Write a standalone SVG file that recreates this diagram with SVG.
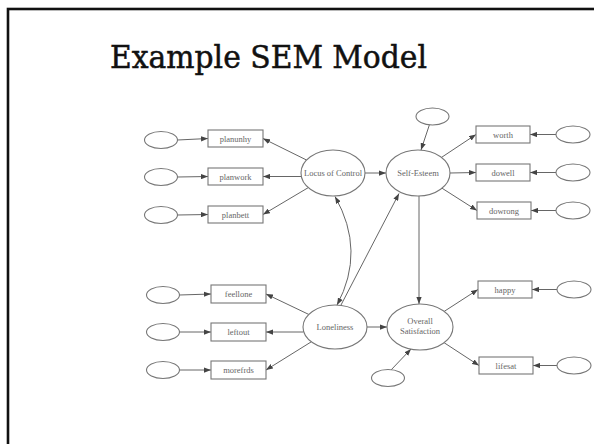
<svg xmlns="http://www.w3.org/2000/svg" width="594" height="444" viewBox="0 0 594 444">
<defs>
<marker id="ah" viewBox="0 0 8 6" markerWidth="7" markerHeight="5.5" refX="8" refY="3" orient="auto-start-reverse" markerUnits="userSpaceOnUse">
<path d="M0,0 L8,3 L0,6 z" fill="#444"/>
</marker>
<style>
.e{fill:#fff;stroke:#777;stroke-width:1.1}
.r{fill:#fff;stroke:#777;stroke-width:1.1}
.t{font-family:"Liberation Serif","Times New Roman",serif;font-size:8.5px;fill:#666;text-anchor:middle}
.c{fill:none;stroke:#666;stroke-width:1}
.c line,.c path{marker-end:url(#ah)}
.title{font-family:"DejaVu Serif",serif;font-size:31px;fill:#111;stroke:#111;stroke-width:0.5;text-anchor:middle}
</style>
</defs>
<rect x="0" y="0" width="594" height="444" fill="#fff"/>
<rect x="8" y="9" width="600" height="450" fill="none" stroke="#111" stroke-width="2.6"/>
<text class="title" x="268.5" y="68" textLength="317" lengthAdjust="spacingAndGlyphs">Example SEM Model</text>

<g class="c" id="connectors">
<line x1="177.5" y1="140" x2="208" y2="138.5"/>
<line x1="177.5" y1="177" x2="208" y2="176.5"/>
<line x1="177.5" y1="215" x2="208" y2="214.5"/>
<line x1="179.5" y1="295" x2="211" y2="294"/>
<line x1="179.5" y1="332" x2="211" y2="332"/>
<line x1="179.5" y1="370" x2="211" y2="370"/>
<line x1="556" y1="134.5" x2="530" y2="134.5"/>
<line x1="556" y1="172.5" x2="530" y2="172.5"/>
<line x1="556" y1="210.5" x2="531" y2="210.5"/>
<line x1="557" y1="289.5" x2="532" y2="289.5"/>
<line x1="557" y1="365.5" x2="533" y2="365.5"/>
<line x1="306.5" y1="160" x2="263" y2="138.5"/>
<line x1="301" y1="176.5" x2="263" y2="176.5"/>
<line x1="308.3" y1="187.6" x2="263" y2="214.5"/>
<line x1="308.7" y1="314.4" x2="266" y2="294"/>
<line x1="303" y1="332" x2="266" y2="332"/>
<line x1="311.3" y1="341.8" x2="266" y2="370"/>
<line x1="441.5" y1="157.4" x2="476" y2="134.5"/>
<line x1="450" y1="173" x2="476" y2="172.5"/>
<line x1="442" y1="188.2" x2="477" y2="210.5"/>
<line x1="444.2" y1="311.4" x2="478" y2="289.5"/>
<line x1="444.1" y1="342.7" x2="479" y2="365.5"/>
<line x1="365" y1="173" x2="386" y2="173"/>
<line x1="367" y1="327" x2="387" y2="327"/>
<line x1="419" y1="196" x2="419" y2="304"/>
<line x1="429.5" y1="124.5" x2="421" y2="150"/>
<line x1="391" y1="370" x2="411" y2="349"/>
<line x1="341" y1="305" x2="399" y2="193.5"/>
<path d="M335,196.5 Q366,251 337,305" marker-start="url(#ah)"/>
</g>

<g id="n-err1"><ellipse class="e" cx="161" cy="140" rx="16.5" ry="8.5"/></g>
<g id="n-err2"><ellipse class="e" cx="161" cy="177" rx="16.5" ry="8.5"/></g>
<g id="n-err3"><ellipse class="e" cx="161" cy="215" rx="16.5" ry="8.5"/></g>
<g id="n-err4"><ellipse class="e" cx="163" cy="295" rx="16.5" ry="8.5"/></g>
<g id="n-err5"><ellipse class="e" cx="163" cy="332" rx="16.5" ry="8.5"/></g>
<g id="n-err6"><ellipse class="e" cx="163" cy="370" rx="16.5" ry="8.5"/></g>
<g id="n-err7"><ellipse class="e" cx="573" cy="134.5" rx="17" ry="8.5"/></g>
<g id="n-err8"><ellipse class="e" cx="573" cy="172.5" rx="17" ry="8.5"/></g>
<g id="n-err9"><ellipse class="e" cx="573" cy="210.5" rx="17" ry="8.5"/></g>
<g id="n-err10"><ellipse class="e" cx="574" cy="289.5" rx="17" ry="8.5"/></g>
<g id="n-err11"><ellipse class="e" cx="574" cy="365.5" rx="17" ry="8.5"/></g>
<g id="n-err12"><ellipse class="e" cx="432.5" cy="116.5" rx="16.5" ry="8.5"/></g>
<g id="n-err13"><ellipse class="e" cx="388" cy="378" rx="16.5" ry="8.5"/></g>

<g id="n-planunhy"><rect class="r" x="208" y="130" width="55" height="17"/><text class="t" x="235.5" y="141.5">planunhy</text></g>
<g id="n-planwork"><rect class="r" x="208" y="168" width="55" height="17"/><text class="t" x="235.5" y="179.5">planwork</text></g>
<g id="n-planbett"><rect class="r" x="208" y="206" width="55" height="17"/><text class="t" x="235.5" y="217.5">planbett</text></g>
<g id="n-feellone"><rect class="r" x="211" y="285" width="55" height="18"/><text class="t" x="238.5" y="297">feellone</text></g>
<g id="n-leftout"><rect class="r" x="211" y="323" width="55" height="18"/><text class="t" x="238.5" y="335">leftout</text></g>
<g id="n-morefrds"><rect class="r" x="211" y="361" width="55" height="18"/><text class="t" x="238.5" y="373">morefrds</text></g>
<g id="n-worth"><rect class="r" x="476" y="126" width="54" height="17"/><text class="t" x="503" y="137.5">worth</text></g>
<g id="n-dowell"><rect class="r" x="476" y="164" width="54" height="17"/><text class="t" x="503" y="175.5">dowell</text></g>
<g id="n-dowrong"><rect class="r" x="477" y="202" width="54" height="17"/><text class="t" x="504" y="213.5">dowrong</text></g>
<g id="n-happy"><rect class="r" x="478" y="281" width="54" height="17"/><text class="t" x="505" y="292.5">happy</text></g>
<g id="n-lifesat"><rect class="r" x="479" y="357" width="54" height="17"/><text class="t" x="506" y="368.5">lifesat</text></g>

<g id="n-locus"><ellipse class="e" cx="333" cy="173" rx="32" ry="23"/><text class="t" x="333" y="176" font-size="8px">Locus of Control</text></g>
<g id="n-selfesteem"><ellipse class="e" cx="418" cy="173" rx="32" ry="23"/><text class="t" x="418" y="176">Self-Esteem</text></g>
<g id="n-loneliness"><ellipse class="e" cx="335" cy="327" rx="32" ry="22"/><text class="t" x="335" y="330">Loneliness</text></g>
<g id="n-overall"><ellipse class="e" cx="420" cy="327" rx="33" ry="23"/><text class="t" x="420" y="324">Overall</text><text class="t" x="420" y="334">Satisfaction</text></g>
</svg>
